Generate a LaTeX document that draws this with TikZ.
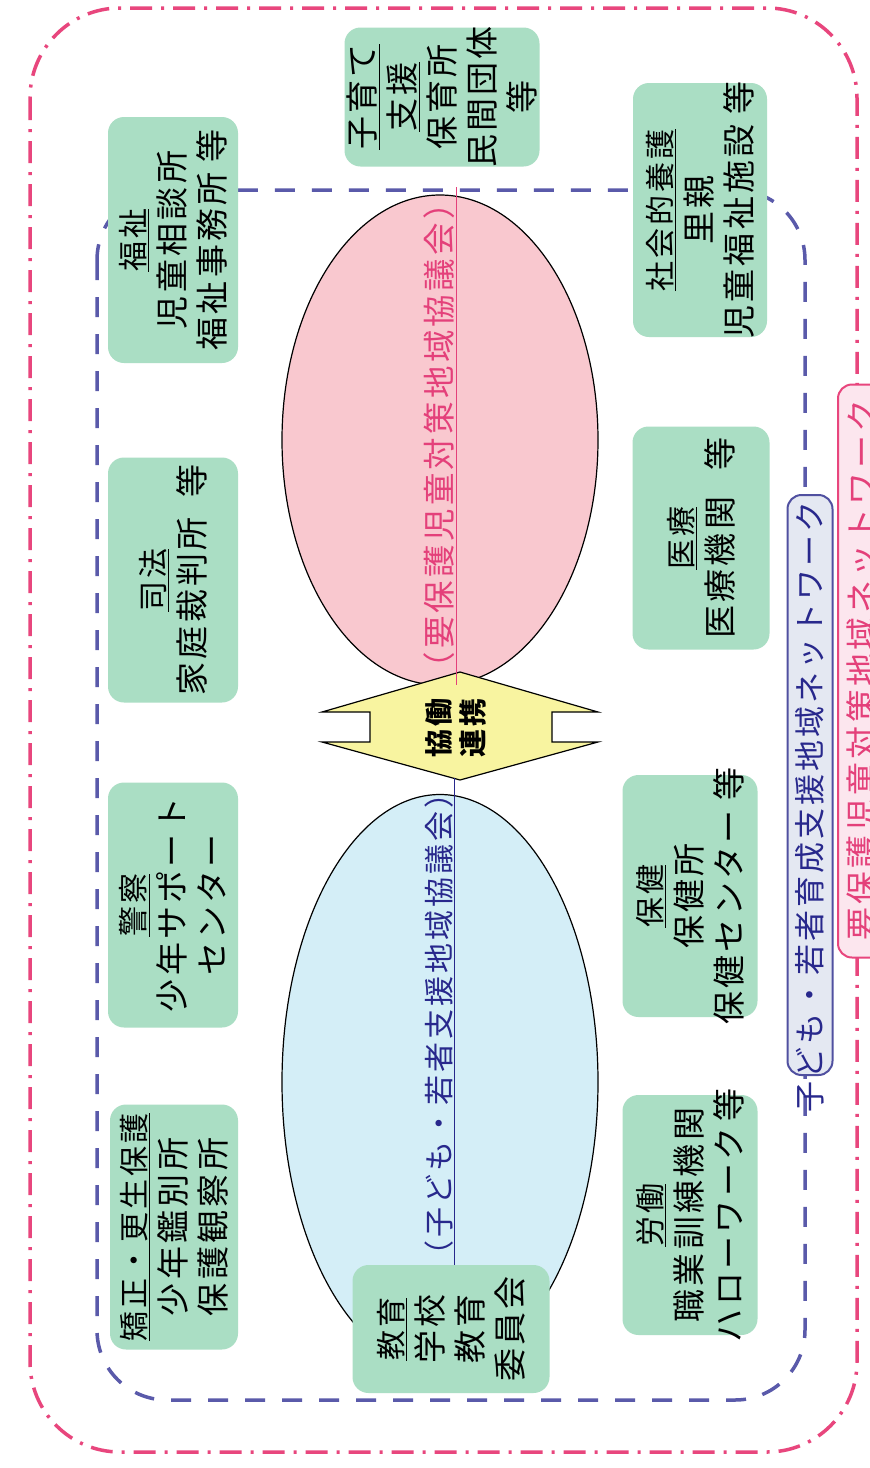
\documentclass[tikz,border=0pt]{standalone}
\usepackage{fontspec}
\newfontfamily\jp[LetterSpace=10]{Noto Sans CJK JP}
\usetikzlibrary{shapes.geometric}
\definecolor{gfill}{RGB}{170,222,196}
\definecolor{pinkellfill}{RGB}{249,200,207}
\definecolor{blueellfill}{RGB}{212,238,247}
\definecolor{yellowfill}{RGB}{248,244,160}
\definecolor{bluedashc}{RGB}{90,90,170}
\definecolor{pinkdashc}{RGB}{232,70,125}
\definecolor{navytext}{RGB}{40,40,140}
\definecolor{pinktext}{RGB}{228,64,122}
\definecolor{bluelblfill}{RGB}{228,232,242}
\definecolor{bluelbldraw}{RGB}{80,80,160}
\definecolor{pinklblfill}{RGB}{252,230,238}
\newcommand{\jhead}[1]{{\fontsize{30}{40}\selectfont\underline{#1}}}
\tikzset{
  gbox/.style={fill=gfill, rounded corners=16pt, inner sep=0pt},
  vtext/.style={rotate=90, align=center, inner sep=0pt, font=\jp\fontsize{33}{40}\selectfont},
  ellshape/.style={ellipse, draw=black, line width=1.2pt, inner sep=0pt},
  elllabel/.style={rotate=90, inner sep=0pt},
  pinkframe/.style={draw=pinkdashc, line width=3.5pt, rounded corners=90pt, dash pattern=on 22pt off 9pt on 3pt off 9pt},
  blueframe/.style={draw=bluedashc, line width=3.5pt, rounded corners=70pt, dash pattern=on 20pt off 17pt},
  netbox/.style={line width=2pt, rounded corners=14pt, inner sep=0pt},
}
\begin{document}
\begin{tikzpicture}[x=1pt,y=-1pt]
\useasboundingbox (0,0) rectangle (870,1468);
\clip (0,0) rectangle (870,1468);
\fill[white] (0,0) rectangle (870,1468);

% frames
\draw[pinkframe] (30,8) rectangle (857,1452);
\draw[blueframe] (97,190) rectangle (805,1400);

% ellipses
\node[ellshape, fill=pinkellfill, minimum width=316pt, minimum height=490pt] (pinkell) at (440,440) {};
\node[ellshape, fill=blueellfill, minimum width=316pt, minimum height=575pt] (blueell) at (440,1082) {};

% cooperation double arrow
\filldraw[fill=yellowfill, draw=black, line width=1.2pt]
  (460,672) -- (598,712) -- (552,712) -- (552,742) -- (598,742) -- (460,780)
  -- (322,742) -- (370,742) -- (370,712) -- (322,712) -- cycle;
\node[rotate=90, align=center, inner sep=0pt, font=\jp\bfseries\fontsize{28}{34}\selectfont] (kyodo) at (456,728) {協働\\連携};

% ellipse labels
\node[elllabel, text=pinktext, font=\jp\fontsize{32.5}{33}\selectfont] (pinklbl) at (440,436) {\underline{（要保護児童対策地域協議会）}};
\node[elllabel, text=navytext, font=\jp\fontsize{30}{30}\selectfont] (bluelbl) at (440,1024) {\underline{（子ども・若者支援地域協議会）}};

% left column
\node[gbox, minimum width=128pt, minimum height=245pt] (kyosei) at (174,1227) {};
\node[vtext] (kyoseit) at (kyosei) {\jhead{矯正・更生保護}\\少年鑑別所\\保護観察所};
\node[gbox, minimum width=130pt, minimum height=245pt] (keisatsu) at (173,905) {};
\node[vtext] (keisatsut) at (keisatsu) {\jhead{警察}\\少年サポート\\センター};
\node[gbox, minimum width=130pt, minimum height=245pt] (shiho) at (173,580) {};
\node[vtext] (shihot) at (shiho) {\jhead{司法}\\家庭裁判所\hspace{0.6em}等};
\node[gbox, minimum width=130pt, minimum height=246pt] (fukushi) at (173,240) {};
\node[vtext] (fukushit) at (fukushi) {\jhead{福祉}\\児童相談所\\福祉事務所\hspace{0.3em}等};

% middle column
\node[gbox, minimum width=197pt, minimum height=128pt] (kyoiku) at (451,1329) {};
\node[vtext] (kyoikut) at (kyoiku) {\jhead{教育}\\学校\\教育\\委員会};
\node[gbox, minimum width=195pt, minimum height=139pt] (kosodate) at (442,97) {};
\node[vtext] (kosodatet) at (kosodate) {\underline{子育て}\\\underline{支援}\\保育所\\民間団体\\等};

% right column
\node[gbox, minimum width=135pt, minimum height=240pt] (rodo) at (690,1215) {};
\node[vtext] (rodot) at (rodo) {\jhead{労働}\\職業訓練機関\\ハローワーク\hspace{0.2em}等};
\node[gbox, minimum width=135pt, minimum height=242pt] (hoken) at (690,896) {};
\node[vtext] (hokent) at (hoken) {\jhead{保健}\\保健所\\保健センター\hspace{0.3em}等};
\node[gbox, minimum width=137pt, minimum height=223pt] (iryo) at (701,538) {};
\node[vtext] (iryot) at (iryo) {\jhead{医療}\\医療機関\hspace{0.8em}等};
\node[gbox, minimum width=134pt, minimum height=254pt] (shakai) at (700,210) {};
\node[vtext] (shakait) at (shakai) {\jhead{社会的養護}\\里親\\児童福祉施設\hspace{0.3em}等};

% network labels
\node[netbox, draw=bluelbldraw, fill=bluelblfill, minimum width=45pt, minimum height=580pt] (netblue) at (810,785) {};
\node[rotate=90, inner sep=0pt, text=navytext, font=\jp\fontsize{31}{31}\selectfont] (netbluet) at (810,807) {子ども・若者育成支援地域ネットワーク};
\node[netbox, draw=pinkdashc, fill=pinklblfill, minimum width=48pt, minimum height=573pt] (netpink) at (862,671) {};
\node[rotate=90, inner sep=0pt, text=pinktext, font=\jp\fontsize{33}{33}\selectfont] (netpinkt) at (862,670) {要保護児童対策地域ネットワーク};
\end{tikzpicture}
\end{document}
